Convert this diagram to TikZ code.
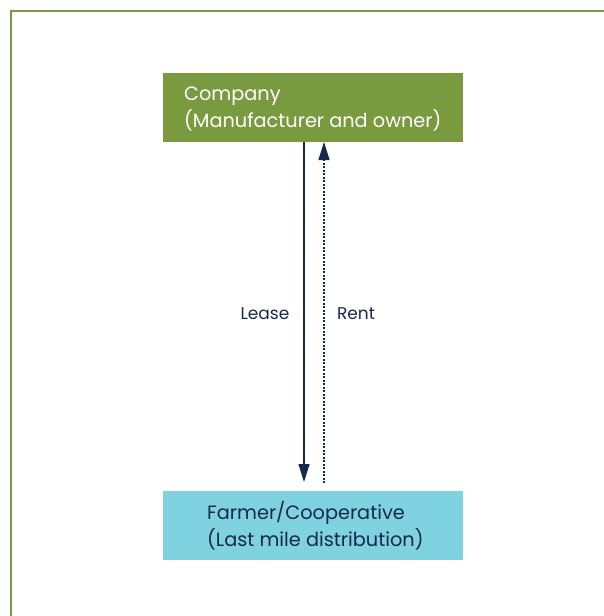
\documentclass[tikz,border=0pt]{standalone}
\usepackage{fontspec}
\setmainfont{Poppins}
\usetikzlibrary{arrows.meta}
\definecolor{framegreen}{HTML}{7A9A40}
\definecolor{boxgreen}{HTML}{7A9A40}
\definecolor{boxcyan}{HTML}{7FD2DF}
\definecolor{navy}{HTML}{15294A}
\tikzset{
  entity/.style={minimum width=300pt, minimum height=69pt, inner sep=0pt, outer sep=0pt, anchor=north west},
  etext/.style={anchor=west, align=left, inner sep=0pt, font=\fontsize{19.3}{27}\selectfont},
  flow/.style={navy, line width=1.1pt, -{Triangle[length=18pt,width=11pt]}},
  lbl/.style={navy, font=\fontsize{17}{20}\selectfont}
}
\begin{document}
\begin{tikzpicture}[x=1pt,y=-1pt]
\useasboundingbox (0,0) rectangle (604,616);
\draw[framegreen, line width=2.2pt] (11,616) -- (11,11) -- (604,11);
\node[entity, fill=boxgreen] (company) at (163,73) {};
\node[entity, fill=boxcyan] (farmer) at (163,491) {};
\node[etext, white] (ctext) at (184,109) {Company\\(Manufacturer and owner)};
\node[etext, navy] (ftext) at (207,526) {Farmer/Cooperative\\(Last mile distribution)};
\coordinate (ltop) at (304,142);
\coordinate (lbot) at (304,482);
\coordinate (rtop) at (324,142);
\coordinate (rbot) at (324,483);
\draw[flow] (ltop) -- (lbot);
\draw[flow, dash pattern=on 2pt off 1.5pt] (rbot) -- (rtop);
\node[lbl] (lease) at (265,314) {Lease};
\node[lbl] (rent) at (356,314) {Rent};
\end{tikzpicture}
\end{document}
